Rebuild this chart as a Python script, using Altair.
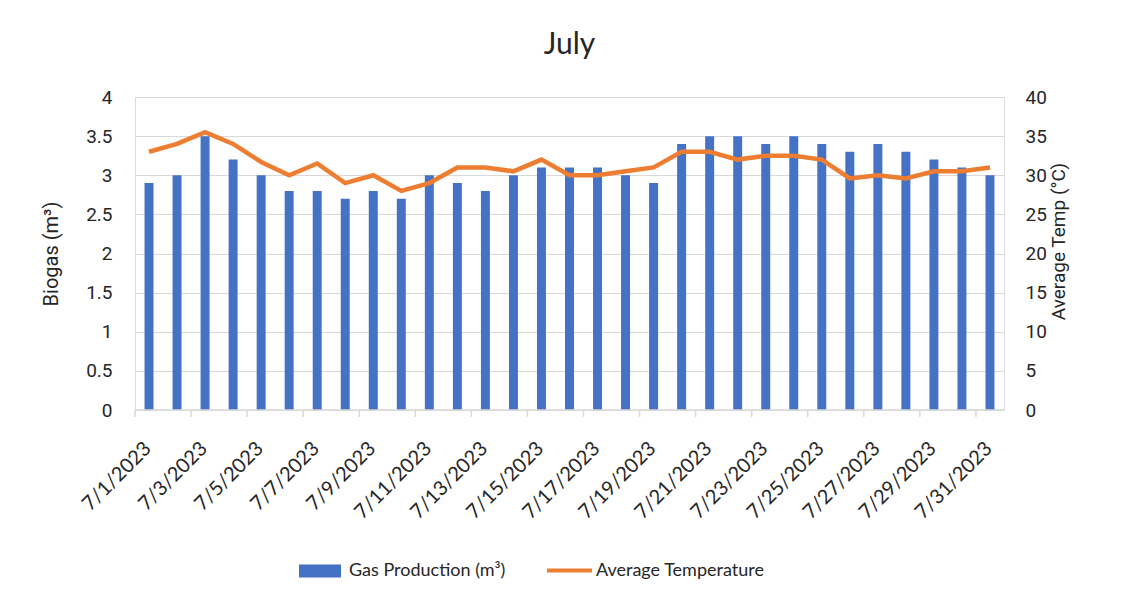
import altair as alt
import pandas as pd

dates = [f"7/{d}/2023" for d in range(1, 32)]
gas = [2.9, 3.0, 3.5, 3.2, 3.0, 2.8, 2.8, 2.7, 2.8, 2.7, 3.0, 2.9, 2.8, 3.0, 3.1, 3.1,
       3.1, 3.0, 2.9, 3.4, 3.5, 3.5, 3.4, 3.5, 3.4, 3.3, 3.4, 3.3, 3.2, 3.1, 3.0]
temp = [33.0, 34.0, 35.5, 34.0, 31.7, 30.0, 31.5, 29.0, 30.0, 28.0, 29.0, 31.0, 31.0, 30.5, 32.0, 30.0,
        30.0, 30.5, 31.0, 33.0, 33.0, 32.0, 32.5, 32.5, 32.0, 29.6, 30.0, 29.6, 30.5, 30.5, 31.0]
tick_dates = dates[::2]
left_ticks = [0, 0.5, 1, 1.5, 2, 2.5, 3, 3.5, 4]
right_ticks = [0, 5, 10, 15, 20, 25, 30, 35, 40]

df = pd.DataFrame({
    "date": dates,
    "gas": gas,
    "temp": temp,
    "s1": "Gas Production (m³)",
    "s2": "Average Temperature",
})
ticks_df = pd.DataFrame({"date": tick_dates})

TXT = "#262626"
GRID = "#D9D9D9"
NUMFONT = "Roboto"
DATEFONT = "Lato"
W, H = 869, 313
STEP = W / 31.0

xscale = alt.Scale(paddingInner=0.68, paddingOuter=0.34)
xaxis = alt.Axis(values=tick_dates, labelAngle=-45, labelOffset=-8,
                 labelFont=DATEFONT, labelFontSize=20, labelColor=TXT, labelPadding=28,
                 domain=False, ticks=False, grid=False, labelOverlap=False)
x = alt.X("date:N", sort=dates, title=None, scale=xscale, axis=xaxis)

bars = alt.Chart(df).mark_bar(color="#4472C4").encode(
    x=x,
    y=alt.Y("gas:Q", title="Biogas (m³)",
            scale=alt.Scale(domain=[0, 4], nice=False),
            axis=alt.Axis(values=left_ticks, format="~g", domain=False, ticks=False,
                          grid=True, gridColor=GRID, labelFont=NUMFONT, labelFontSize=19,
                          labelColor=TXT, labelPadding=23, titleFont=NUMFONT,
                          titleFontSize=20, titleFontWeight="normal", titleColor=TXT,
                          titlePadding=24)),
    color=alt.Color("s1:N", title=None,
                    scale=alt.Scale(range=["#4472C4"]),
                    legend=alt.Legend(orient="none", legendX=164, legendY=453,
                                      symbolType="M-1,-0.31H1V0.31H-1Z", symbolSize=1764,
                                      symbolStrokeWidth=0, labelFont=DATEFONT,
                                      labelFontSize=18, labelColor=TXT, labelOffset=8,
                                      labelLimit=0)),
)

line = alt.Chart(df).mark_line(color="#ED7D31", strokeWidth=4.5).encode(
    x=x,
    y=alt.Y("temp:Q", title="Average Temp (°C)",
            scale=alt.Scale(domain=[0, 40], nice=False),
            axis=alt.Axis(orient="right", values=right_ticks, domain=False, ticks=False,
                          grid=False, labelFont=NUMFONT, labelFontSize=19,
                          labelColor=TXT, labelPadding=21, titleFont=NUMFONT,
                          titleFontSize=19, titleFontWeight="normal", titleColor=TXT,
                          titlePadding=22, titleAngle=270, titleY=144)),
    stroke=alt.Stroke("s2:N", title=None,
                      scale=alt.Scale(range=["#ED7D31"]),
                      legend=alt.Legend(orient="none", legendX=410, legendY=449,
                                        symbolType="stroke", symbolSize=2025,
                                        symbolStrokeWidth=4, labelFont=DATEFONT,
                                        labelFontSize=18, labelColor=TXT, labelOffset=2,
                                        labelLimit=0)),
)

# category-axis baseline and tick marks at category boundaries (every other date)
baseline = alt.Chart(pd.DataFrame({"k": [0]})).mark_rule(color=GRID, strokeWidth=1.5).encode(
    x=alt.value(0), x2=alt.value(W), y=alt.value(H)
)
tickmarks = alt.Chart(ticks_df).mark_rule(color=GRID, strokeWidth=1.5,
                                          xOffset=-STEP * 0.34 - 4.5).encode(
    x=alt.X("date:N", sort=dates, title=None, scale=xscale, axis=xaxis),
    y=alt.value(H), y2=alt.value(H + 7),
)

chart = alt.layer(bars, line, baseline, tickmarks).resolve_scale(
    y="independent", color="independent", stroke="independent"
).properties(
    width=W, height=H,
    autosize=alt.AutoSizeParams(type="none"),
    padding={"left": 127, "top": 89, "right": 116, "bottom": 188},
    title=alt.TitleParams("July", font=DATEFONT, fontSize=30, fontWeight="normal",
                          color=TXT, anchor="middle", offset=28),
).configure_view(strokeWidth=0).configure_axisX(grid=False).configure(background="white")

chart.save("out.html", embed_options={"renderer": "svg", "actions": False})
